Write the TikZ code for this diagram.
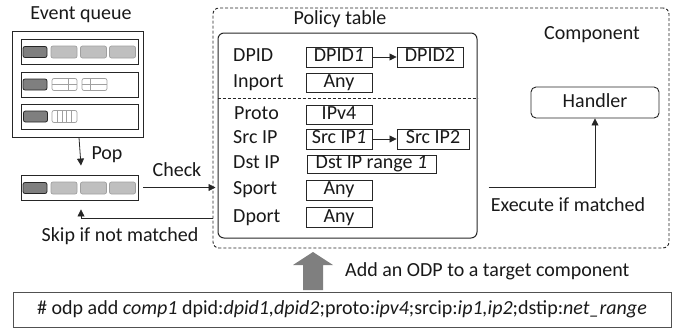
\documentclass[tikz,border=0pt]{standalone}
\usepackage{fontspec}
\setmainfont{Carlito}
\usetikzlibrary{arrows.meta}
\definecolor{dkcell}{HTML}{7F7F7F}
\definecolor{ltcell}{HTML}{BFBFBF}
\definecolor{ltedge}{HTML}{A0A0A0}
\definecolor{blockgray}{HTML}{7F7F7F}
\definecolor{linegray}{HTML}{262626}
\begin{document}
\begin{tikzpicture}[x=1pt,y=-1pt,
  font=\fontsize{20}{24}\selectfont,
  every node/.style={inner sep=0pt, text height=13pt, text depth=4pt, text=black!90},
  lbl/.style={anchor=west},
  fbox/.style={draw=linegray, line width=0.9pt, anchor=center},
  arr/.style={-{Triangle[length=7pt,width=7pt]}, line width=0.8pt, draw=linegray},
  dashbox/.style={draw=linegray, line width=0.9pt, dash pattern=on 3pt off 2pt},
  dcell/.pic={\draw[fill=dkcell, draw=black!85, line width=0.8pt, rounded corners=2pt] (-12,-5.5) rectangle (12,5.5);},
  lcell/.pic={\draw[fill=ltcell, draw=ltedge, line width=0.7pt, rounded corners=2pt] (-13,-6) rectangle (13,6);},
  gcella/.pic={\draw[fill=white, draw=ltedge, line width=0.7pt, rounded corners=2pt] (-12.5,-6) rectangle (12.5,6);
               \draw[ltedge, line width=0.5pt] (3.5,-6) -- (3.5,6) (-12.5,0) -- (12.5,0);},
  gcellb/.pic={\draw[fill=white, draw=ltedge, line width=0.7pt, rounded corners=2pt] (-12.5,-6) rectangle (12.5,6);
               \draw[ltedge, line width=0.5pt] (-4,-6) -- (-4,6) (-12.5,0) -- (12.5,0);},
  scell/.pic={\draw[fill=white, draw=ltedge, line width=0.7pt, rounded corners=2pt] (-12.5,-6) rectangle (12.5,6);
              \foreach \s in {-7,-2.5,2,6.5}{\draw[ltedge, line width=0.6pt] (\s,-6) -- (\s,6);}}
]
\useasboundingbox (0,0) rectangle (678,330);

% ---------- Event queue ----------
\node (eqlabel) at (81,15) {Event queue};
\node[fbox, minimum width=131pt, minimum height=106pt] (eq) at (77.5,84) {};
\node[fbox, minimum width=117pt, minimum height=25pt] (row1) at (79.5,51.5) {};
\node[fbox, minimum width=117pt, minimum height=25pt] (row2) at (79.5,84.5) {};
\node[fbox, minimum width=117pt, minimum height=25pt] (row3) at (79.5,116.5) {};
\pic at (35,52) {dcell};
\pic at (64,52) {lcell};
\pic at (93.5,52) {lcell};
\pic at (122.5,52) {lcell};
\pic at (35,84.5) {dcell};
\pic at (64.5,84.5) {gcella};
\pic at (94.5,84.5) {gcellb};
\pic at (35.5,116.5) {dcell};
\pic at (64.5,116.5) {scell};

% ---------- popped event ----------
\node[fbox, minimum width=117pt, minimum height=25pt] (lq) at (79.5,187.5) {};
\pic at (35,188) {dcell};
\pic at (64,188) {lcell};
\pic at (93.5,188) {lcell};
\pic at (122.5,188) {lcell};

\draw[arr] ([xshift=1.5pt]eq.south) -- ([xshift=1.5pt,yshift=9pt]lq.north);
\node (pop) at (107,155) {Pop};

% ---------- Component ----------
\node[dashbox, rounded corners=6pt, minimum width=456pt, minimum height=240pt] (comp) at (441,128) {};
\node (pt) at (340,20) {Policy table};
\node (complabel) at (592,35) {Component};
\node[draw=linegray, line width=1pt, rounded corners=6pt, minimum width=259pt, minimum height=205pt] (inner) at (347.5,135.5) {};

\node[lbl] (l1) at (233,57) {DPID};
\node[lbl] (l2) at (233,82.5) {Inport};
\node[lbl] (l3) at (234,114.5) {Proto};
\node[lbl] (l4) at (233,139) {Src IP};
\node[lbl] (l5) at (233,164) {Dst IP};
\node[lbl] (l6) at (233,190) {Sport};
\node[lbl] (l7) at (233,217.8) {Dport};

\node[fbox, minimum width=66pt, minimum height=20pt] (dpid1) at (339,57) {DPID\textit{1}};
\node[fbox, minimum width=66pt, minimum height=20pt] (dpid2) at (430,57) {DPID2};
\node[fbox, minimum width=66pt, minimum height=19pt] (inport) at (339,82.5) {Any};
\node[fbox, minimum width=66pt, minimum height=19pt] (proto) at (339,114.5) {IPv4};
\node[fbox, minimum width=66pt, minimum height=20pt] (src1) at (339,139) {Src IP\textit{1}};
\node[fbox, minimum width=72pt, minimum height=20pt] (src2) at (433,139) {Src IP2};
\node[fbox, minimum width=129pt, minimum height=18pt] (dst) at (371.5,164) {Dst IP range \textit{1}};
\node[fbox, minimum width=66pt, minimum height=20pt] (sport) at (339,190) {Any};
\node[fbox, minimum width=66pt, minimum height=20pt] (dport) at (339,217.8) {Any};

\draw[arr] (dpid1) -- (dpid2);
\draw[arr] (src1) -- (src2);
\draw[dashbox] (inner.west |- 0,98) -- (inner.east |- 0,98);

\node[draw=linegray, line width=0.9pt, rounded corners=5pt, minimum width=128pt, minimum height=31pt] (handler) at (595,102.5) {Handler};

% ---------- connectors ----------
\draw[arr] ([xshift=5pt]lq.east) -- ([xshift=-2pt]inner.west |- lq.east);
\node (check) at (177,172) {Check};
\draw[arr] (comp.west |- l7) ++(0,0.2) -| ([xshift=1.5pt,yshift=-9pt]lq.south);
\node (skip) at (120,237) {Skip if not matched};
\draw[arr] ([xshift=11pt]inner.east |- lq.east) -| (handler.south);
\node (exec) at (568,207) {Execute if matched};

% ---------- command ----------
\node[draw=linegray!80, line width=1pt, minimum width=658pt, minimum height=35pt] (cmd) at (342,309.5)
  {\# odp add \textit{comp1} dpid:\textit{dpid1,dpid2};proto:\textit{ipv4};srcip:\textit{ip1,ip2};dstip:\textit{net\_range}};
\fill[blockgray] (313,252) -- (333,265) -- (323,265) -- (323,290) -- (303,290) -- (303,265) -- (293,265) -- cycle;
\node[anchor=west] (add) at (345,272) {Add an ODP to a target component};
\end{tikzpicture}
\end{document}
